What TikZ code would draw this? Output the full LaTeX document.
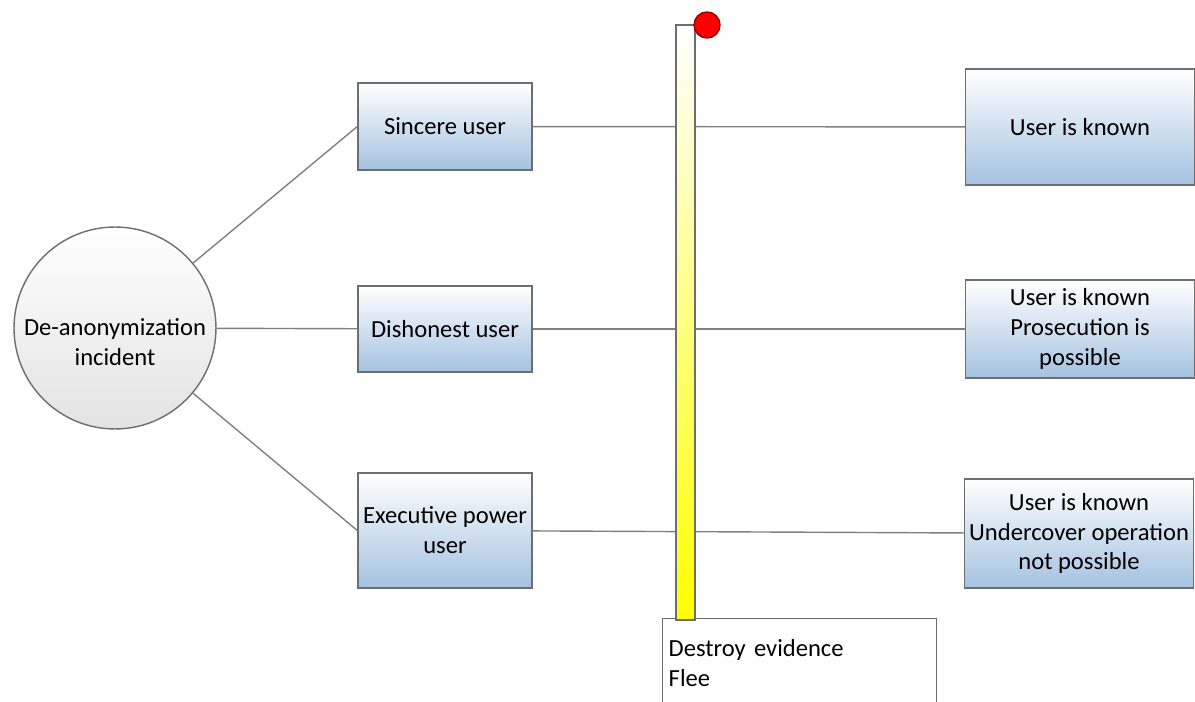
\documentclass[tikz,border=0pt]{standalone}
\usepackage{fontspec}
\setmainfont{Carlito}
\usetikzlibrary{positioning}
\definecolor{boxblue}{RGB}{164,194,224}
\definecolor{linegray}{RGB}{128,128,128}
\definecolor{edgegray}{RGB}{110,110,110}

\begin{document}
\begin{tikzpicture}[x=0.02cm,y=-0.02cm,line width=0.8pt,
    every node/.style={font=\fontsize{14}{17}\selectfont},
    usr/.style={draw=edgegray,top color=white,bottom color=boxblue,
      minimum width=3.48cm,align=center,inner sep=2pt},
    res/.style={usr,minimum width=4.58cm},
    link/.style={draw=linegray}]
      \clip (0,0) rectangle (1195,702);
      \node[circle,draw=edgegray,top color=white,bottom color=gray!22,
        minimum size=4.04cm,align=center,inner sep=0pt,text height=43pt]
        (inc) at (115,328) {De-anonymization\\incident};
      \node[usr,minimum height=1.74cm] (u_sin) at (445,126.5) {Sincere user};
      \node[usr,minimum height=1.72cm] (u_dis) at (445,329) {Dishonest user};
      \node[usr,minimum height=2.3cm] (u_exe) at (445,530.5) {Executive power\\user};
      \node[res,minimum height=2.32cm] (r_sin) at (1080,127) {User is known};
      \node[res,minimum height=1.96cm] (r_dis) at (1080,329)
        {User is known\\Prosecution is\\possible};
      \node[res,minimum height=2.18cm] (r_exe) at (1079,533.5)
        {User is known\\Undercover operation\\not possible};
      \node[draw=edgegray,anchor=north west,inner xsep=0.12cm,
        text width=5.24cm,minimum height=1.76cm,align=left] (evid) at (662,618)
        {Destroy evidence\\Flee};
      \path[link]
      (inc) edge (u_sin.west)
      (inc) edge (u_dis)
      (inc) edge (u_exe.west)
      (u_sin) edge (r_sin)
      (u_dis) edge (r_dis)
      (u_exe) edge (r_exe);
      % the bar sits over the lines
      \node[draw=edgegray,top color=white,bottom color=yellow,inner sep=0pt,
        minimum width=0.38cm,minimum height=11.9cm] (bar) at (685.5,322.5) {};
      \node[circle,draw=red!60!black,fill=red,inner sep=0pt,
        minimum size=0.52cm] (dot) at (707,25) {};
    \end{tikzpicture}
\end{document}
